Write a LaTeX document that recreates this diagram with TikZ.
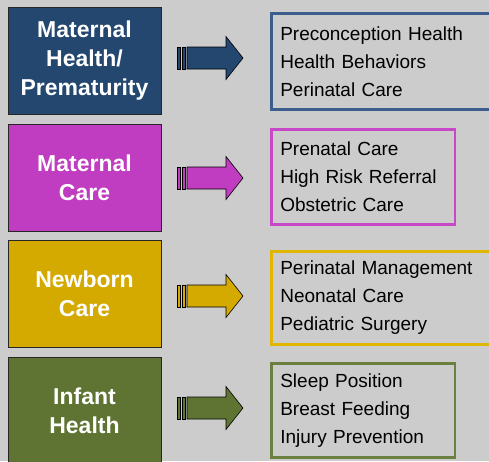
\documentclass[tikz,border=0pt]{standalone}
\usepackage{fontspec}
\setmainfont{Liberation Sans}
\definecolor{bg}{HTML}{CCCCCC}
\definecolor{cA}{HTML}{23476F}
\definecolor{bA}{HTML}{3B5E8C}
\definecolor{cB}{HTML}{C03CC0}
\definecolor{bB}{HTML}{C848C8}
\definecolor{cC}{HTML}{D4A900}
\definecolor{bC}{HTML}{E0B600}
\definecolor{cD}{HTML}{5F7433}
\definecolor{bD}{HTML}{6B7F3F}
\tikzset{
  lbox/.style={draw=black!85, line width=0.8pt, minimum width=153pt, inner sep=0pt,
    text=white, align=center, font=\fontsize{23}{29}\selectfont\bfseries},
  rbox/.style={line width=2.6pt, anchor=west, inner xsep=8.7pt, inner ysep=0pt,
    align=left, font=\fontsize{19}{28}\selectfont, text=black},
  blockarrow/.pic={
    \path[draw=black, line width=0.6pt, fill=#1]
      (0,-11) rectangle (3,11)
      (5,-11) rectangle (8,11);
    \path[draw=black, line width=0.6pt, fill=#1]
      (10,-11) -- (49,-11) -- (49,-21.5) -- (66,0) -- (49,21.5) -- (49,11) -- (10,11) -- cycle;
  }
}
\begin{document}
\begin{tikzpicture}[x=1pt,y=-1pt]
\fill[bg] (0,0) rectangle (489,461);
\useasboundingbox (0,0) rectangle (489,461);
\clip (0,0) rectangle (489,461);
% left boxes
\node[lbox, fill=cA, minimum height=107pt] (L1) at (84.5,60.5) {Maternal\\Health/\\Prematurity};
\node[lbox, fill=cB, minimum height=107pt] (L2) at (84.5,177.5) {Maternal\\Care};
\node[lbox, fill=cC, minimum height=107pt] (L3) at (84.5,293.5) {Newborn\\Care};
\node[lbox, fill=cD, minimum height=108pt] (L4) at (84.5,411) {Infant\\Health};
% right boxes
\node[rbox, draw=bA, minimum width=223.4pt, minimum height=96.4pt, text width=206pt] (R1) at (270.3,61.5)
  {Preconception Health\\Health Behaviors\\Perinatal Care};
\node[rbox, draw=bB, minimum width=183.4pt, minimum height=95.4pt, text width=166pt] (R2) at (270.3,177)
  {Prenatal Care\\High Risk Referral\\Obstetric Care};
\node[rbox, draw=bC, minimum width=223.4pt, minimum height=93.4pt, text width=206pt] (R3) at (270.3,298)
  {Perinatal Management\\Neonatal Care\\Pediatric Surgery};
\node[rbox, draw=bD, minimum width=183.4pt, minimum height=94.4pt, text width=166pt] (R4) at (270.3,410.5)
  {Sleep Position\\Breast Feeding\\Injury Prevention};
% arrows
\pic at (177,58) {blockarrow=cA};
\pic at (177,178) {blockarrow=cB};
\pic at (177,296) {blockarrow=cC};
\pic at (177,408) {blockarrow=cD};
\end{tikzpicture}
\end{document}
